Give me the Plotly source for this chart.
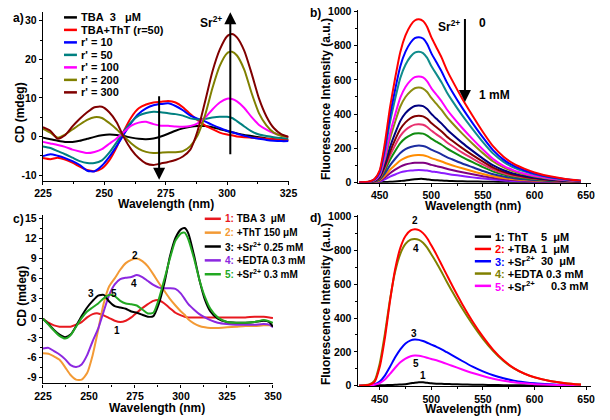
import plotly.graph_objects as go

W, H = 610, 420
FONT = "Liberation Sans, Arial, Helvetica, sans-serif"

# ---------------- Panel a : CD titration ----------------
wl_a = [225, 228, 231, 234, 237, 240, 243, 246, 249, 252, 255, 258, 261, 264, 267, 270, 273, 276, 279,
        282, 285, 288, 291, 294, 297, 300, 302, 304, 307, 310, 313, 316, 319, 322, 325]
a_tba = [-0.3, -0.7, -1.1, -1.4, -1.4, -1.1, -0.6, -0.1, 0.3, 0.5, 0.4, 0.1, -0.3, -0.6, -0.7, -0.5, 0.0, 0.7,
         1.5, 2.1, 2.5, 2.7, 2.7, 2.4, 1.9, 1.4, 1.1, 0.8, 0.4, 0.1, -0.2, -0.5, -0.7, -0.9, -1.0]
a_tba_tht = [-5.6, -5.9, -5.5, -6.0, -6.8, -7.8, -8.7, -9.0, -8.3, -6.2, -2.8, 1.5, 5.0, 7.3, 8.3, 8.8, 9.0, 9.2,
             8.8, 7.6, 5.8, 4.2, 2.9, 1.9, 1.0, 0.5, 0.3, 0.0, -0.2, -0.3, -0.4, -0.6, -0.7, -0.8, -0.9]
a_r10 = [-5.1, -4.6, -5.0, -5.6, -6.4, -7.4, -8.9, -9.0, -7.6, -5.3, -2.5, 0.6, 3.6, 5.9, 7.3, 8.1, 8.4, 8.6,
         7.9, 6.8, 5.4, 4.6, 3.9, 3.0, 2.2, 1.5, 1.1, 0.7, 0.2, -0.3, -0.6, -0.9, -1.1, -1.2, -1.2]
a_r50 = [-2.6, -3.0, -3.8, -4.6, -5.5, -6.4, -6.9, -6.9, -6.2, -4.2, -1.5, 1.4, 3.8, 5.4, 6.1, 6.4, 6.3, 6.0,
         5.8, 5.4, 4.7, 4.4, 4.6, 4.9, 5.1, 5.1, 4.8, 4.0, 2.6, 1.3, 0.5, 0.1, -0.2, -0.4, -0.5]
a_r100 = [-1.4, -1.8, -2.2, -2.7, -3.4, -3.9, -4.3, -4.0, -3.3, -1.9, -0.5, 1.2, 2.8, 3.6, 3.8, 3.2, 2.8, 2.8,
          2.6, 2.5, 2.7, 3.4, 4.9, 7.0, 8.8, 9.8, 9.7, 9.1, 7.4, 5.0, 3.0, 1.8, 0.9, 0.3, -0.1]
a_r200 = [2.0, 1.0, -0.3, 0.5, 1.8, 3.1, 4.3, 5.0, 4.8, 3.5, 1.9, 0.0, -1.8, -3.2, -4.0, -4.3, -4.2, -4.1,
          -4.1, -3.8, -2.5, 0.3, 5.5, 12.5, 18.3, 21.6, 22.0, 21.0, 17.3, 11.2, 6.0, 2.9, 1.0, 0.2, -0.1]
a_r300 = [2.4, 1.5, -0.6, 0.3, 2.6, 4.6, 6.3, 7.6, 7.7, 6.3, 3.7, -0.3, -3.4, -5.6, -7.0, -7.4, -7.0, -6.6,
          -6.1, -5.2, -3.4, 1.5, 9.0, 16.8, 22.5, 26.0, 26.6, 25.7, 22.2, 16.3, 9.8, 5.2, 2.2, 0.6, -0.1]
a_series = [a_tba, a_tba_tht, a_r10, a_r50, a_r100, a_r200, a_r300]
a_names = ["TBA\u00a0\u00a03\u00a0\u00a0\u00a0μM", "TBA+ThT (r=50)", "r' = 10", "r' = 50", "r' = 100",
           "r' = 200", "r' = 300"]
a_colors = ["#000000", "#ff0000", "#0000ff", "#008080", "#ff00ff", "#808000", "#800000"]
a_xticks = [225, 250, 275, 300, 325]
a_yticks = [-10, 0, 10, 20, 30]
a_yticktext = ["-10", "0", "10", "20", "30"]

# ---------------- Panel b : fluorescence titration ----------------
wl_b = [430, 440, 445, 450, 455, 460, 465, 470, 475, 480, 484, 488, 492, 496, 500, 505, 510, 515, 520, 530,
        540, 550, 560, 570, 580, 590, 600, 615, 630, 645]
b_s01 = [0, 5, 20, 70, 229, 439, 611, 764, 860, 920, 948, 955, 945, 910, 850, 790, 730, 659, 600, 490, 390,
         295, 210, 150, 108, 80, 58, 35, 20, 10]
b_s02 = [0, 4, 18, 62, 204, 391, 544, 680, 765, 819, 844, 850, 842, 810, 757, 703, 649, 587, 534, 436, 347,
         263, 187, 133, 96, 71, 52, 31, 18, 9]
b_s03 = [0, 4, 16, 56, 184, 352, 490, 612, 689, 737, 760, 765, 757, 729, 681, 633, 584, 528, 480, 392, 312,
         236, 168, 120, 86, 64, 47, 28, 16, 8]
b_s04 = [0, 3, 13, 45, 149, 285, 397, 496, 558, 597, 616, 620, 614, 591, 552, 513, 474, 428, 389, 318, 253,
         192, 136, 97, 70, 52, 38, 23, 13, 6]
b_s05 = [0, 3, 12, 41, 133, 255, 355, 444, 500, 534, 551, 555, 549, 529, 494, 459, 424, 383, 349, 285, 226,
         171, 122, 87, 63, 47, 34, 21, 12, 6]
b_s06 = [0, 2, 9, 33, 108, 207, 288, 360, 405, 433, 447, 450, 446, 429, 401, 372, 344, 311, 283, 231, 184,
         139, 99, 71, 51, 38, 27, 17, 9, 5]
b_s07 = [0, 2, 8, 28, 94, 179, 250, 312, 351, 376, 387, 390, 386, 372, 347, 323, 298, 269, 245, 200, 159,
         121, 86, 61, 44, 33, 24, 14, 8, 4]
b_s08 = [0, 2, 7, 25, 82, 156, 218, 272, 306, 327, 338, 340, 337, 324, 303, 281, 260, 235, 214, 174, 139,
         105, 75, 53, 38, 29, 21, 13, 7, 3]
b_s09 = [0, 1, 6, 21, 69, 132, 184, 230, 259, 277, 286, 288, 285, 274, 256, 238, 220, 199, 181, 148, 118,
         89, 63, 45, 33, 24, 18, 11, 6, 3]
b_s10 = [0, 1, 5, 16, 52, 99, 138, 172, 194, 207, 213, 215, 213, 205, 191, 178, 164, 148, 135, 110, 88, 66,
         47, 34, 24, 18, 13, 8, 5, 2]
b_s11 = [0, 1, 3, 12, 38, 74, 102, 128, 144, 154, 159, 160, 158, 152, 142, 132, 122, 110, 100, 82, 65, 49,
         35, 25, 18, 13, 10, 6, 3, 2]
b_s12 = [0, 1, 2, 8, 28, 53, 74, 92, 104, 111, 114, 115, 114, 110, 102, 95, 88, 79, 72, 59, 47, 36, 25, 18,
         13, 10, 7, 4, 2, 1]
b_s13 = [0, 0, 2, 5, 17, 33, 46, 58, 65, 69, 71, 72, 71, 69, 64, 60, 55, 50, 45, 37, 29, 22, 16, 11, 8, 6,
         4, 3, 2, 1]
b_s14 = [0, 0, 0, 1, 2, 3, 5, 8, 11, 15, 18, 20, 20, 17, 14, 12, 10, 9, 8, 6, 5, 4, 3, 2, 1, 1, 1, 0, 0, 0]
b_series = [b_s01, b_s02, b_s03, b_s04, b_s05, b_s06, b_s07, b_s08, b_s09, b_s10, b_s11, b_s12, b_s13, b_s14]
b_colors = ["#ff0000", "#0000ff", "#108c8c", "#ff00ff", "#8c8c10", "#000080", "#800000", "#e8306e",
            "#108c10", "#1c2ca0", "#ff8c00", "#800080", "#8c1cff", "#000000"]
b_xticks = [450, 500, 550, 600, 650]
b_yticks = [0, 200, 400, 600, 800, 1000]

# ---------------- Panel c : CD control ----------------
wl_c = [225, 228, 231, 234, 237, 240, 243, 246, 249, 252, 255, 258, 261, 264, 267, 270, 273, 276, 279, 282,
        285, 288, 291, 294, 297, 300, 302, 304, 307, 310, 313, 316, 320, 325, 330, 335, 340, 345, 348, 350]
c_1 = [-0.1, -0.7, -1.1, -1.3, -1.3, -1.3, -1.0, -0.6, 0.1, 0.6, 0.7, 0.4, 0.0, -0.4, -0.6, -0.4, 0.1, 0.8,
       1.5, 2.1, 2.6, 2.7, 2.2, 1.5, 0.8, 0.4, 0.2, 0.1, 0.1, 0.1, 0.1, 0.1, 0.1, 0.1, 0.1, 0.1, 0.2, 0.2,
       0.1, 0.0]
c_2 = [-5.3, -5.4, -5.8, -6.3, -7.4, -8.6, -9.3, -9.3, -8.3, -5.6, -1.8, 2.2, 4.8, 6.0, 7.3, 8.3, 8.8, 9.0,
       8.6, 7.8, 6.6, 5.3, 4.1, 2.9, 1.9, 1.0, 0.5, -0.2, -0.8, -1.2, -1.4, -1.5, -1.5, -1.4, -1.3, -1.2,
       -1.2, -1.1, -1.1, -1.2]
c_3 = [-0.1, -0.9, -1.8, -2.5, -2.9, -2.5, -1.2, 0.3, 1.6, 2.6, 3.4, 3.5, 2.5, 1.8, 1.6, 1.4, 1.0, 0.8, 0.5,
       0.2, 0.3, 2.2, 5.3, 9.3, 12.1, 13.4, 13.6, 12.8, 9.6, 5.8, 2.8, 1.0, -0.1, -0.6, -0.7, -0.7, -0.6,
       -0.4, -0.6, -1.3]
c_4 = [-4.6, -4.5, -5.0, -5.5, -6.2, -7.1, -7.4, -7.0, -5.6, -3.5, -1.6, 1.0, 3.5, 5.1, 5.9, 6.1, 6.2, 6.5,
       6.2, 5.6, 5.0, 4.6, 4.5, 4.5, 4.4, 3.7, 2.9, 2.1, 1.3, 0.6, 0.1, -0.3, -0.7, -0.9, -1.0, -1.0, -1.0,
       -0.9, -1.0, -1.4]
c_5 = [-0.1, -1.0, -1.9, -2.7, -3.1, -2.6, -1.3, 0.0, 1.0, 1.6, 2.2, 3.0, 3.5, 3.3, 2.6, 2.2, 2.1, 1.9, 1.3,
       0.7, 0.8, 2.9, 5.9, 9.0, 11.7, 12.8, 12.9, 11.9, 9.1, 5.8, 3.2, 1.4, 0.1, -0.6, -0.7, -0.7, -0.6,
       -0.3, -0.5, -0.7]
c_series = [c_1, c_2, c_4, c_3, c_5]
c_series_colors = ["#e8191f", "#f39a35", "#8c28e0", "#000000", "#22a822"]
c_numbers = ["1:", "2:", "3:", "4:", "5:"]
c_names = ["TBA 3\u00a0\u00a0μM", "+ThT 150 μM", "+Sr<sup>2+</sup> 0.25 mM", "+EDTA 0.3 mM",
           "+Sr<sup>2+</sup> 0.3 mM"]
c_colors = ["#e8191f", "#f39a35", "#000000", "#8c28e0", "#22a822"]
c_curve_labels = ["1", "2", "3", "4", "5"]
c_xticks = [225, 250, 275, 300, 325, 350]
c_yticks = [-9, -6, -3, 0, 3, 6, 9, 12, 15]
c_yticktext = ["-9", "-6", "-3", "0", "3", "6", "9", "12", "15"]

# ---------------- Panel d : fluorescence control ----------------
wl_d = [430, 440, 445, 450, 455, 460, 465, 470, 475, 480, 484, 488, 492, 496, 500, 505, 510, 515, 520, 530,
        540, 550, 560, 570, 580, 590, 600, 615, 630, 645]
d_1 = [0, 0, 1, 2, 3, 4, 5, 7, 9, 14, 18, 21, 20, 17, 14, 12, 11, 10, 9, 7, 6, 5, 4, 3, 2, 2, 1, 1, 0, 0]
d_2 = [0, 6, 22, 110, 280, 500, 690, 815, 885, 918, 925, 920, 902, 872, 830, 775, 715, 655, 595, 482, 380,
       290, 212, 150, 104, 72, 50, 28, 15, 7]
d_3 = [0, 3, 9, 25, 60, 112, 168, 215, 250, 268, 273, 271, 264, 254, 243, 230, 215, 198, 181, 146, 113, 85,
       62, 44, 30, 21, 14, 8, 4, 2]
d_4 = [0, 8, 30, 130, 305, 510, 675, 780, 838, 864, 868, 862, 845, 816, 777, 727, 672, 615, 560, 456, 362,
       277, 205, 146, 102, 71, 49, 28, 15, 7]
d_5 = [0, 2, 6, 15, 36, 70, 106, 138, 160, 174, 178, 177, 172, 165, 158, 150, 140, 129, 118, 96, 75, 57, 41,
       29, 20, 14, 9, 5, 3, 1]
d_series = [d_1, d_3, d_5, d_4, d_2]
d_series_colors = ["#000000", "#0000ff", "#ff00ff", "#808000", "#ff0000"]
d_numbers = ["1:", "2:", "3:", "4:", "5:"]
d_names = ["ThT", "+TBA", "+Sr<sup>2+</sup>", "+EDTA 0.3 mM", "+Sr<sup>2+</sup>"]
d_values = ["5\u00a0\u00a0μM", "1\u00a0\u00a0μM", "30\u00a0\u00a0μM", "", "0.3 mM"]
d_colors = ["#000000", "#ff0000", "#0000ff", "#808000", "#ff00ff"]
d_curve_labels = ["2", "4", "3", "5", "1"]
d_xticks = [450, 500, 550, 600, 650]
d_yticks = [0, 200, 400, 600, 800, 1000]


def fx(p):
    return p / W


def fy(p):
    return 1 - p / H


def b(s):
    return f"<b>{s}</b>"


fig = go.Figure()


def add_lines(xs, ys_list, colors, xa, ya, width=2.0):
    for ys, col in zip(ys_list, colors):
        fig.add_trace(go.Scatter(x=xs, y=ys, mode="lines", xaxis=xa, yaxis=ya, showlegend=False,
                                 hoverinfo="skip",
                                 line=dict(color=col, width=width, shape="spline", smoothing=0.6)))


add_lines(wl_a, a_series, a_colors, "x", "y")
add_lines(wl_b, b_series[::-1], b_colors[::-1], "x2", "y2")
add_lines(wl_c, c_series, c_series_colors, "x3", "y3")
add_lines(wl_d, d_series, d_series_colors, "x4", "y4")

tickfont = dict(family=FONT, size=10.5, color="black")


def xaxis(dom, anchor, rng, vals, minor):
    return dict(domain=dom, anchor=anchor, range=rng, tickmode="array", tickvals=vals,
                ticktext=[b(v) for v in vals], showline=True, linecolor="black", linewidth=1.3,
                ticks="outside", ticklen=3, tickwidth=1.2, tickcolor="black", tickfont=tickfont,
                showgrid=False, zeroline=False,
                minor=dict(ticks="outside", ticklen=2, tickwidth=1, tickcolor="black",
                           tick0=vals[0], dtick=minor, showgrid=False))


def yaxis(dom, anchor, rng, vals, text, minor):
    return dict(domain=dom, anchor=anchor, range=rng, tickmode="array", tickvals=vals,
                ticktext=[b(t) for t in text],
                showline=True, linecolor="black", linewidth=1.3, ticks="outside", ticklen=3,
                tickwidth=1.2, tickcolor="black", tickfont=tickfont, showgrid=False, zeroline=False,
                minor=dict(ticks="outside", ticklen=2, tickwidth=1, tickcolor="black",
                           tick0=vals[0], dtick=minor, showgrid=False))


fig.update_layout(
    width=W, height=H, margin=dict(l=0, r=0, t=0, b=0),
    paper_bgcolor="white", plot_bgcolor="white", showlegend=False,
    xaxis=xaxis([fx(35), fx(288)], "y", [225, 325], a_xticks, 12.5),
    yaxis=yaxis([fy(180), fy(6.7)], "x", [-11.47, 32.4], a_yticks, a_yticktext, 5),
    xaxis2=xaxis([fx(359.3), fx(600)], "y2", [428.7, 655.0], b_xticks, 25),
    yaxis2=yaxis([fy(182), fy(5)], "x2", [-2, 1010], b_yticks, [str(v) for v in b_yticks], 100),
    xaxis3=xaxis([fx(35), fx(272)], "y3", [225, 350], c_xticks, 12.5),
    yaxis3=yaxis([fy(387.7), fy(215)], "x3", [-9.88, 15.59], c_yticks, c_yticktext, 1.5),
    xaxis4=xaxis([fx(359.3), fx(600)], "y4", [428.7, 655.0], d_xticks, 25),
    yaxis4=yaxis([fy(390.5), fy(215)], "x4", [-3, 1010], d_yticks, [str(v) for v in d_yticks], 100),
)

ann = []
shapes = []


def text(x, y, s, size=12, xanchor="center", angle=0, color="black"):
    ann.append(dict(x=fx(x), y=fy(y), xref="paper", yref="paper", text=b(s), showarrow=False,
                    xanchor=xanchor, yanchor="middle", textangle=angle,
                    font=dict(family=FONT, size=size, color=color)))


# axis titles
for cx, cy in [(162, 204), (478, 205.5), (153, 413), (478, 413.8)]:
    text(cx, cy, "Wavelength (nm)", 12)
text(12, 110, "CD (mdeg)", 12, angle=-90)
text(13, 298, "CD (mdeg)", 12, angle=-90)
text(326, 96, "Fluorescence Intensity (a.u.)", 12, angle=-90)
text(326, 306, "Fluorescence Intensity (a.u.)", 12, angle=-90)

# panel letters
text(10, 13, "a)", 12)
text(316, 8, "b)", 12)
text(10, 219, "c)", 12)
text(316, 218, "d)", 12)

# panel a legend
for i, (nm, col) in enumerate(zip(a_names, a_colors)):
    yy = 12.7 + i * 12.8
    shapes.append(dict(type="line", xref="paper", yref="paper", x0=fx(56.7), x1=fx(70), y0=fy(yy), y1=fy(yy),
                       line=dict(color=col, width=2.5)))
    text(72, yy, nm, 11, xanchor="left")

# panel a arrows
ann.append(dict(x=301.3, y=32.2, ax=301.3, ay=-5, xref="x", yref="y", axref="x", ayref="y", text="",
                showarrow=True, arrowhead=2, arrowsize=1.2, arrowwidth=2, arrowcolor="black", standoff=0))
ann.append(dict(x=272.3, y=-11.2, ax=272.3, ay=10.8, xref="x", yref="y", axref="x", ayref="y", text="",
                showarrow=True, arrowhead=2, arrowsize=1.2, arrowwidth=2, arrowcolor="black", standoff=0))
text(208, 17, "Sr<sup>2+</sup>", 12)

# panel b arrow and notes
ann.append(dict(x=532.6, y=470, ax=532.6, ay=965, xref="x2", yref="y2", axref="x2", ayref="y2", text="",
                showarrow=True, arrowhead=2, arrowsize=1.2, arrowwidth=2, arrowcolor="black", standoff=0))
text(453, 21, "Sr<sup>2+</sup>", 12)
text(482, 18, "0", 12, xanchor="left")
text(482, 92, "1 mM", 12, xanchor="left")

# panel c legend
for i, (num, nm, col) in enumerate(zip(c_numbers, c_names, c_colors)):
    yy = 219 + i * 14.2
    shapes.append(dict(type="line", xref="paper", yref="paper", x0=fx(201.7), x1=fx(218.3), y0=fy(yy),
                       y1=fy(yy), line=dict(color=col, width=2.5)))
    text(220, yy, f'<span style="color:{col}">{num}</span> {nm}', 10, xanchor="left")

# panel c curve labels
for lab, (lx, ly) in zip(c_curve_labels, [(111.5, 333), (130, 257), (85, 296), (128.5, 285), (108, 296)]):
    text(lx, ly, lab, 10)

# panel d legend
for i, (num, nm, val, col) in enumerate(zip(d_numbers, d_names, d_values, d_colors)):
    yy = 237.3 + i * 12.6
    shapes.append(dict(type="line", xref="paper", yref="paper", x0=fx(480), x1=fx(496.7), y0=fy(yy),
                       y1=fy(yy), line=dict(color=col, width=2.5)))
    text(498.7, yy, f'<span style="color:{col}">{num}</span> {nm}', 11, xanchor="left")
    if val:
        text(556 if i == 4 else 546, yy, val, 11, xanchor="left")

# panel d curve labels
for lab, (lx, ly) in zip(d_curve_labels, [(418, 221), (419, 249), (417, 336), (419, 367), (427, 380)]):
    text(lx, ly, lab, 10)

fig.update_layout(annotations=ann, shapes=shapes)
fig.write_html("out.html", config={"displayModeBar": False},
               post_script="document.body.style.margin='0px';document.body.style.padding='0px';")
